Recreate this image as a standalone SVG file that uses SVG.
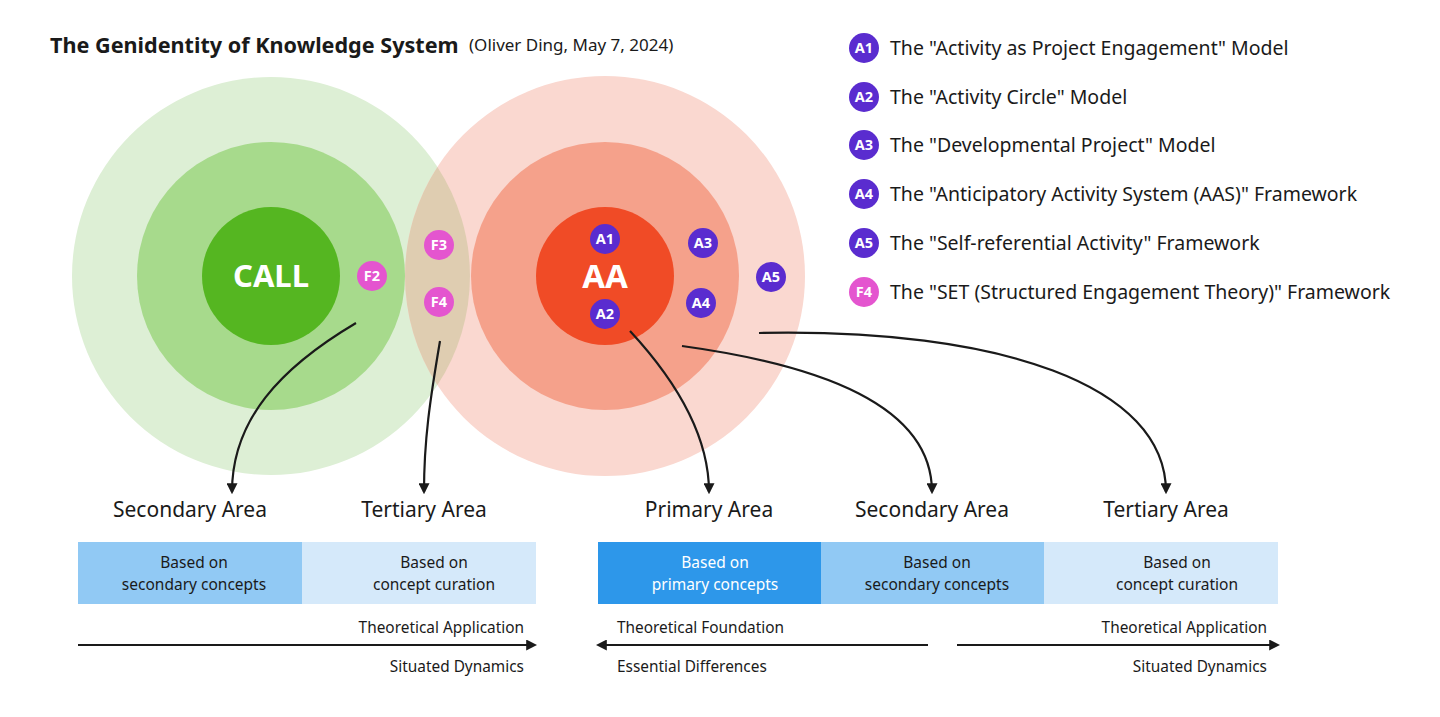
<svg xmlns="http://www.w3.org/2000/svg" width="1440" height="717" viewBox="0 0 1440 717">
<defs>
<style>
text{font-family:"Noto Sans","Open Sans","Liberation Sans",sans-serif;fill:#1a1a1a}
.title{font-size:21.6px;font-weight:700}
.sub{font-size:17px}
.leg{font-size:19.5px}
.bl{font-size:14.5px;font-weight:700;fill:#fff;text-anchor:middle}
.big{font-weight:700;fill:#fff;text-anchor:middle}
.area{font-size:21px;text-anchor:middle}
.box{font-size:15.5px;text-anchor:middle}
.note{font-size:15.4px}
.pa{fill:#5a2ccf}
.pf{fill:#e455cf}
.con{fill:none;stroke:#1a1a1a;stroke-width:2.2}
</style>
<marker id="ah" viewBox="0 0 10 10" refX="8" refY="5" markerWidth="5" markerHeight="5" orient="auto" markerUnits="strokeWidth">
<path d="M0,0 L10,5 L0,10 z" fill="#1a1a1a"/>
</marker>
</defs>
<rect width="1440" height="717" fill="#fff"/>

<g id="title">
<text class="title" x="50" y="53">The Genidentity of Knowledge System</text>
<text class="sub" x="469" y="51">(Oliver Ding, May 7, 2024)</text>
</g>

<g id="call-circles">
<circle cx="271" cy="276" r="199" fill="#ddefd5"/>
<circle cx="271" cy="276" r="134" fill="#a7da8c"/>
<circle cx="271" cy="276" r="69" fill="#55b621"/>
<text class="big" x="271" y="287" font-size="31">CALL</text>
</g>

<g id="aa-circles">
<circle cx="605" cy="276" r="200" fill="#fad8d0"/>
<circle cx="605" cy="276" r="134" fill="#f5a18b"/>
<circle cx="605" cy="276" r="69" fill="#f04b26"/>
<text class="big" x="605" y="288" font-size="33">AA</text>
</g>

<g id="overlap">
<path d="M437.4,166.9 A199,199 0 0 1 437.4,385.1 A200,200 0 0 1 437.4,166.9 Z" fill="#dfcdb1"/>
</g>

<g id="badges">
<g id="b-F2"><circle class="pf" cx="372" cy="276" r="15"/><text class="bl" x="372" y="281">F2</text></g>
<g id="b-F3"><circle class="pf" cx="439" cy="245" r="15"/><text class="bl" x="439" y="250">F3</text></g>
<g id="b-F4"><circle class="pf" cx="439" cy="302" r="15"/><text class="bl" x="439" y="307">F4</text></g>
<g id="b-A1"><circle class="pa" cx="605" cy="239" r="15"/><text class="bl" x="605" y="244">A1</text></g>
<g id="b-A2"><circle class="pa" cx="605" cy="314" r="15"/><text class="bl" x="605" y="319">A2</text></g>
<g id="b-A3"><circle class="pa" cx="703" cy="243" r="15"/><text class="bl" x="703" y="248">A3</text></g>
<g id="b-A4"><circle class="pa" cx="701" cy="303" r="15"/><text class="bl" x="701" y="308">A4</text></g>
<g id="b-A5"><circle class="pa" cx="771" cy="277" r="15"/><text class="bl" x="771" y="282">A5</text></g>
</g>

<g id="legend">
<g id="leg-A1"><circle class="pa" cx="864" cy="48" r="15"/><text class="bl" x="864" y="53">A1</text><text class="leg" x="890" y="55">The "Activity as Project Engagement" Model</text></g>
<g id="leg-A2"><circle class="pa" cx="864" cy="97" r="15"/><text class="bl" x="864" y="102">A2</text><text class="leg" x="890" y="104">The "Activity Circle" Model</text></g>
<g id="leg-A3"><circle class="pa" cx="864" cy="145" r="15"/><text class="bl" x="864" y="150">A3</text><text class="leg" x="890" y="152">The "Developmental Project" Model</text></g>
<g id="leg-A4"><circle class="pa" cx="864" cy="194" r="15"/><text class="bl" x="864" y="199">A4</text><text class="leg" x="890" y="201">The "Anticipatory Activity System (AAS)" Framework</text></g>
<g id="leg-A5"><circle class="pa" cx="864" cy="243" r="15"/><text class="bl" x="864" y="248">A5</text><text class="leg" x="890" y="250">The "Self-referential Activity" Framework</text></g>
<g id="leg-F4"><circle class="pf" cx="864" cy="292" r="15"/><text class="bl" x="864" y="297">F4</text><text class="leg" x="890" y="299">The "SET (Structured Engagement Theory)" Framework</text></g>
</g>

<g id="connectors">
<path class="con" marker-end="url(#ah)" d="M356,323 C280,368 232,420 232,492"/>
<path class="con" marker-end="url(#ah)" d="M440,341 C430,400 424,440 424,492"/>
<path class="con" marker-end="url(#ah)" d="M630,331 C680,385 709,440 709,492"/>
<path class="con" marker-end="url(#ah)" d="M682,346 C820,365 932,405 932,492"/>
<path class="con" marker-end="url(#ah)" d="M759,333 C1000,328 1166,385 1166,492"/>
<path class="con" marker-end="url(#ah)" d="M78,645 L535,645"/>
<path class="con" marker-end="url(#ah)" d="M928,645 L598,645"/>
<path class="con" marker-end="url(#ah)" d="M957,645 L1278,645"/>
</g>

<g id="areas">
<text class="area" x="190" y="517">Secondary Area</text>
<text class="area" x="424" y="517">Tertiary Area</text>
<text class="area" x="709" y="517">Primary Area</text>
<text class="area" x="932" y="517">Secondary Area</text>
<text class="area" x="1166" y="517">Tertiary Area</text>
</g>

<g id="boxes-left">
<rect x="78" y="542" width="224" height="62" fill="#91c9f4"/>
<rect x="302" y="542" width="234" height="62" fill="#d5e9fa"/>
<text class="box" x="194" y="568">Based on</text>
<text class="box" x="194" y="590">secondary concepts</text>
<text class="box" x="434" y="568">Based on</text>
<text class="box" x="434" y="590">concept curation</text>
</g>

<g id="boxes-right">
<rect x="598" y="542" width="223" height="62" fill="#2d97ea"/>
<rect x="821" y="542" width="223" height="62" fill="#91c9f4"/>
<rect x="1044" y="542" width="234" height="62" fill="#d5e9fa"/>
<text class="box" x="715" y="568" style="fill:#fff">Based on</text>
<text class="box" x="715" y="590" style="fill:#fff">primary concepts</text>
<text class="box" x="937" y="568">Based on</text>
<text class="box" x="937" y="590">secondary concepts</text>
<text class="box" x="1177" y="568">Based on</text>
<text class="box" x="1177" y="590">concept curation</text>
</g>

<g id="notes">
<text class="note" x="524" y="633" text-anchor="end">Theoretical Application</text>
<text class="note" x="524" y="672" text-anchor="end">Situated Dynamics</text>
<text class="note" x="617" y="633">Theoretical Foundation</text>
<text class="note" x="617" y="672">Essential Differences</text>
<text class="note" x="1267" y="633" text-anchor="end">Theoretical Application</text>
<text class="note" x="1267" y="672" text-anchor="end">Situated Dynamics</text>
</g>
</svg>
